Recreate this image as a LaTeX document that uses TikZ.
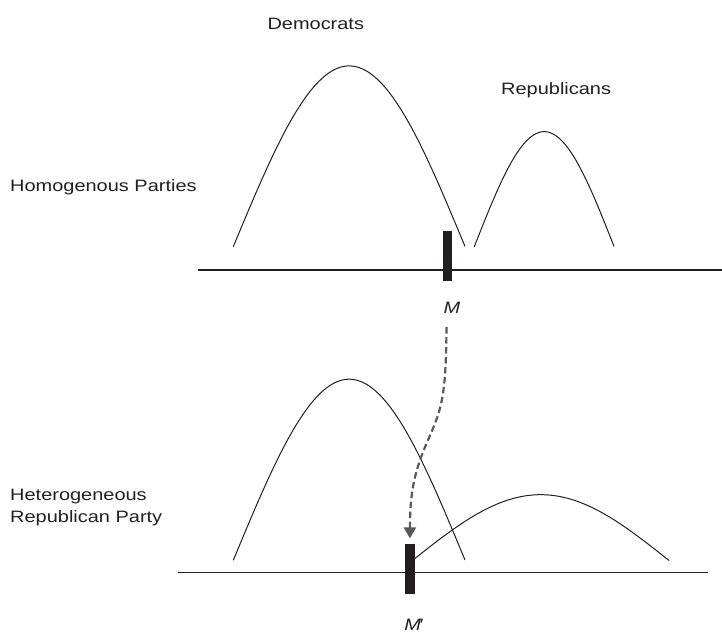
\documentclass[tikz,border=0pt]{standalone}
\usepackage{fontspec}
\setmainfont{Liberation Sans}[FakeStretch=1.21]
\usetikzlibrary{arrows.meta}
\definecolor{ink}{HTML}{231F20}
\definecolor{dashgray}{HTML}{58595B}
\newcommand\bellcurve[6]{%
  \draw[dist] plot[domain=#5:#6, samples=90, smooth] ({#1+#2*\x}, {#3-#4*(exp(-0.5*\x*\x)-0.60653)/0.39347});}
\begin{document}
\begin{tikzpicture}[x=1pt,y=-1pt,
  lbl/.style={font=\fontsize{16.5}{22.7}\selectfont, text=ink, inner sep=0pt, align=left},
  mlbl/.style={font=\fontsize{16.5}{20}\selectfont\itshape, text=ink, inner sep=0pt},
  axisline/.style={draw=ink, line width=1.4pt},
  dist/.style={draw=ink, line width=1pt},
  medbar/.style={fill=ink, draw=none, minimum width=9.3pt, minimum height=49.7pt, inner sep=0pt},
  shiftarrow/.style={draw=dashgray, line width=2.2pt, dash pattern=on 6.5pt off 3.5pt,
    -{Triangle[width=12pt,length=11pt]}, shorten >=5.7pt}
]
\useasboundingbox (0,0) rectangle (722,633);

% labels
\node[lbl, anchor=base west] (dem) at (267.3,29.5) {Democrats};
\node[lbl, anchor=base west] (rep) at (501,94) {Republicans};
\node[lbl, anchor=base west] (homog) at (10,191) {Homogenous Parties};
\node[lbl, anchor=base west] (heter) at (10,522.7) {Heterogeneous\\Republican Party};

% axes
\draw[axisline] (198,270) -- (722,270);
\draw[axisline] (178,572.5) -- (708,572.5);

% distributions, top panel
\bellcurve{349.2}{115.9}{246.7}{180.7}{-1}{1}
\bellcurve{544.2}{69.9}{246.7}{115}{-1}{1}
% distributions, bottom panel
\bellcurve{349.2}{115.9}{560.3}{181}{-1}{1}
\bellcurve{540.7}{128.6}{560.7}{66}{-0.985}{1}

% medians
\node[medbar] (barA) at (447.3,255.9) {};
\node[medbar] (barB) at (409.9,569.2) {};
\node[mlbl, anchor=base] (mA) at (452,313) {M};
\node[mlbl, anchor=base] (mB) at (413.5,630.5) {M\kern-2pt′};

% shift of the median
\coordinate (mstart) at (446.5,327);
\draw[shiftarrow] (mstart) .. controls (446,400) and (441,410) .. (428,440)
  .. controls (415,470) and (410,490) .. (barB.north);
\end{tikzpicture}
\end{document}
